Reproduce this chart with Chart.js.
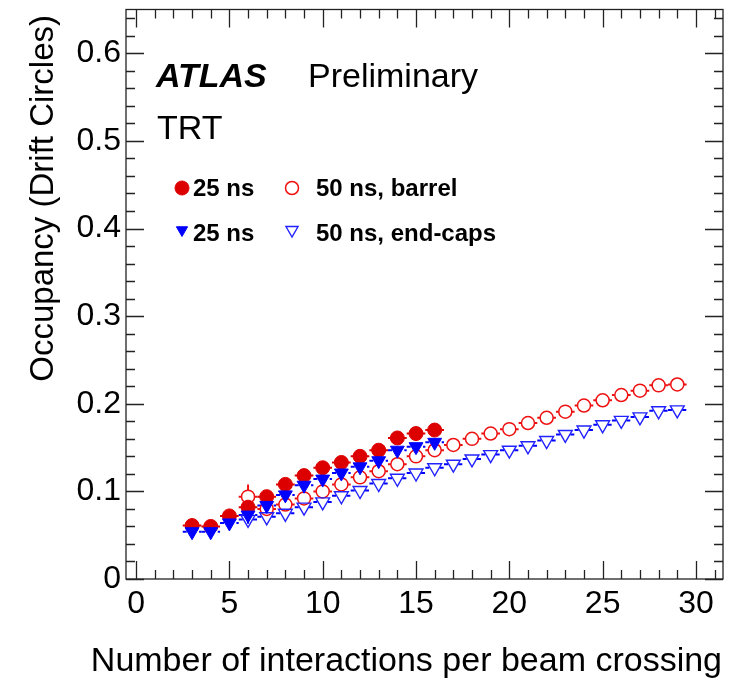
<!DOCTYPE html>
<html>
<head>
<meta charset="utf-8">
<script src="https://cdn.jsdelivr.net/npm/chart.js@4.4.1/dist/chart.umd.min.js"></script>
<style>
html,body{margin:0;padding:0;background:#fff;}
#wrap{position:relative;width:735px;height:679px;}
</style>
</head>
<body>
<div id="wrap"><canvas id="c" width="735" height="679"></canvas></div>
<script>
// ---------------- data ----------------
const mu25 = [3,4,5,6,7,8,9,10,11,12,13,14,15,16];
const barrel25 = [0.061,0.060,0.072,0.082,0.094,0.108,0.118,0.127,0.133,0.140,0.147,0.161,0.166,0.170];
const endcap25 = [0.054,0.054,0.064,0.073,0.084,0.096,0.107,0.114,0.121,0.128,0.135,0.147,0.151,0.156];
const endcap25YErr = [0,0,0,0.010,0,0,0,0,0,0,0,0,0,0];
const barrel25YErr = [0,0,0,0,0,0,0,0,0,0,0,0,0,0];

const mu50 = [6,7,8,9,10,11,12,13,14,15,16,17,18,19,20,21,22,23,24,25,26,27,28,29];
const barrel50 = [0.094,0.080,0.085,0.092,0.100,0.108,0.116,0.123,0.131,0.140,0.147,0.153,0.160,0.166,0.171,0.178,0.184,0.191,0.198,0.204,0.210,0.215,0.221,0.222];
const endcap50 = [0.068,0.071,0.075,0.082,0.088,0.095,0.101,0.109,0.115,0.121,0.127,0.131,0.137,0.142,0.147,0.152,0.158,0.165,0.170,0.176,0.181,0.185,0.192,0.193];
const barrel50YErr = [0.014,0,0,0,0,0,0,0,0,0,0,0,0,0,0,0,0,0,0,0,0,0,0,0];
const endcap50YErr = [0,0,0,0,0,0,0,0,0,0,0,0,0,0,0,0,0,0,0,0,0,0,0,0];
const muBinHalfWidth = 0.5;

const seriesNames = ['25 ns', '25 ns', '50 ns, barrel', '50 ns, end-caps'];
const xTitle = 'Number of interactions per beam crossing';
const yTitle = 'Occupancy (Drift Circles)';

const xMajorTicks = [0,5,10,15,20,25,30];
const xTickLabels = ['0','5','10','15','20','25','30'];
const xMinorTicks = [0,1,2,3,4,5,6,7,8,9,10,11,12,13,14,15,16,17,18,19,20,21,22,23,24,25,26,27,28,29,30,31];
const yMajorTicks = [0,0.1,0.2,0.3,0.4,0.5,0.6];
const yTickLabels = ['0','0.1','0.2','0.3','0.4','0.5','0.6'];
const yMinorTicks = [0,0.02,0.04,0.06,0.08,0.1,0.12,0.14,0.16,0.18,0.2,0.22,0.24,0.26,0.28,0.3,0.32,0.34,0.36,0.38,0.4,0.42,0.44,0.46,0.48,0.5,0.52,0.54,0.56,0.58,0.6,0.62,0.64];

// ---------------- helpers ----------------
const FONT = "'Liberation Sans', Arial, Helvetica, sans-serif";
const RED_F = '#dd0000', RED_O = '#ee1111', BLUE = '#0000ff';
function pts(xs, ys, yerr){ return xs.map((v,i)=>({x:v, y:ys[i], xe:muBinHalfWidth, ye:yerr[i]})); }
function isIn(arr, v){ return arr.some(a=>Math.abs(a-v)<1e-9); }

const errorBars = {
  id:'errorBars',
  beforeDatasetsDraw(chart){
    const {ctx, scales:{x, y}} = chart;
    chart.data.datasets.forEach((ds, i)=>{
      ctx.save();
      ctx.strokeStyle = ds.errColor; ctx.lineWidth = 2;
      ctx.setLineDash(ds.errDash || []);
      const g = ds.errGap;
      ds.data.forEach(p=>{
        const cx = x.getPixelForValue(p.x), cy = y.getPixelForValue(p.y);
        const x0 = x.getPixelForValue(p.x - p.xe), x1 = x.getPixelForValue(p.x + p.xe);
        ctx.beginPath();
        ctx.moveTo(x0, cy); ctx.lineTo(cx - g, cy);
        ctx.moveTo(cx + g, cy); ctx.lineTo(x1, cy);
        if (p.ye){
          const y0 = y.getPixelForValue(p.y - p.ye), y1 = y.getPixelForValue(p.y + p.ye);
          if (y0 > cy + g){ ctx.moveTo(cx, y0); ctx.lineTo(cx, cy + g); }
          if (y1 < cy - g){ ctx.moveTo(cx, y1); ctx.lineTo(cx, cy - g); }
        }
        ctx.stroke();
      });
      ctx.restore();
    });
  }
};

const frameAndText = {
  id:'frameAndText',
  afterDraw(chart){
    const {ctx, chartArea:a, scales:{x, y}} = chart;
    ctx.save();
    ctx.strokeStyle = '#222'; ctx.lineWidth = 1.3;
    ctx.strokeRect(a.left, a.top, a.right - a.left, a.bottom - a.top);
    ctx.beginPath();
    xMinorTicks.forEach(v=>{
      const px = Math.round(x.getPixelForValue(v)) + 0.5;
      const L = isIn(xMajorTicks, v) ? 18 : 9;
      ctx.moveTo(px, a.bottom); ctx.lineTo(px, a.bottom - L);
      ctx.moveTo(px, a.top); ctx.lineTo(px, a.top + L);
    });
    yMinorTicks.forEach(v=>{
      const py = Math.round(y.getPixelForValue(v)) + 0.5;
      const L = isIn(yMajorTicks, v) ? 18 : 9;
      ctx.moveTo(a.left, py); ctx.lineTo(a.left + L, py);
      ctx.moveTo(a.right, py); ctx.lineTo(a.right - L, py);
    });
    ctx.stroke();

    // axis titles (ROOT style: aligned to the far end of each axis)
    ctx.fillStyle = '#000';
    ctx.textBaseline = 'alphabetic';
    ctx.textAlign = 'right';
    ctx.font = '34px ' + FONT;
    ctx.fillText(xTitle, 722, 671);
    ctx.save();
    ctx.translate(53, 15);
    ctx.rotate(-Math.PI/2);
    ctx.font = '33px ' + FONT;
    ctx.textAlign = 'right';
    ctx.fillText(yTitle, 0, 0);
    ctx.restore();

    // annotations
    ctx.textAlign = 'left';
    ctx.font = 'italic bold 34px ' + FONT;
    ctx.fillText('ATLAS', 156, 87);
    ctx.font = '34px ' + FONT;
    ctx.fillText('Preliminary', 308, 87);
    ctx.fillText('TRT', 157, 139);

    // legend
    const ds = chart.data.datasets;
    const items = [
      {d:ds[1], mx:182, my:188, tx:193, ty:196, r:7},
      {d:ds[3], mx:292, my:188, tx:316, ty:196, r:6.5},
      {d:ds[0], mx:182, my:230, tx:193, ty:241, r:6.5},
      {d:ds[2], mx:292, my:230, tx:316, ty:241, r:7}
    ];
    items.forEach(it=>{
      ctx.save();
      ctx.fillStyle = it.d.backgroundColor;
      ctx.strokeStyle = it.d.borderColor;
      ctx.lineWidth = it.d.borderWidth;
      Chart.helpers.drawPoint(ctx, {pointStyle:it.d.pointStyle, radius:it.r, rotation:it.d.rotation||0, borderWidth:it.d.borderWidth}, it.mx, it.my);
      ctx.restore();
      ctx.fillStyle = '#000';
      ctx.font = 'bold 24px ' + FONT;
      ctx.fillText(it.d.label, it.tx, it.ty);
    });
    ctx.restore();
  }
};

new Chart(document.getElementById('c'), {
  type:'scatter',
  data:{
    datasets:[
      {label:seriesNames[1], data:pts(mu25, endcap25, endcap25YErr), pointStyle:'triangle', rotation:180,
       pointRadius:8, backgroundColor:BLUE, borderColor:BLUE, borderWidth:1, order:0,
       errColor:BLUE, errDash:[4,3], errGap:0},
      {label:seriesNames[0], data:pts(mu25, barrel25, barrel25YErr), pointStyle:'circle',
       pointRadius:7, backgroundColor:RED_F, borderColor:RED_F, borderWidth:1, order:1,
       errColor:RED_F, errDash:[], errGap:0},
      {label:seriesNames[3], data:pts(mu50, endcap50, endcap50YErr), pointStyle:'triangle', rotation:180,
       pointRadius:8, backgroundColor:'rgba(255,255,255,0)', borderColor:'#2222ff', borderWidth:1.4, order:2,
       errColor:BLUE, errDash:[4,3], errGap:5},
      {label:seriesNames[2], data:pts(mu50, barrel50, barrel50YErr), pointStyle:'circle',
       pointRadius:6.5, backgroundColor:'rgba(255,255,255,0)', borderColor:RED_O, borderWidth:1.5, order:3,
       errColor:RED_O, errDash:[], errGap:6.5}
    ]
  },
  options:{
    responsive:false, animation:false, devicePixelRatio:1,
    layout:{padding:{left:0, right:12, top:7, bottom:0}},
    plugins:{legend:{display:false}, tooltip:{enabled:false}},
    elements:{point:{hoverRadius:8}},
    scales:{
      x:{
        type:'linear', min:-0.54, max:31.45,
        grid:{display:false, drawTicks:false}, border:{display:false},
        afterBuildTicks:(s)=>{ s.ticks = xMajorTicks.map(v=>({value:v})); },
        afterFit:(s)=>{ s.height = 100; s.paddingLeft = 0; s.paddingRight = 0; },
        ticks:{autoSkip:false, maxRotation:0, minRotation:0, padding:6, color:'#000',
          font:{family:FONT, size:32},
          callback:(v)=>{ const i = xMajorTicks.findIndex(t=>Math.abs(t-v)<1e-9); return i>=0 ? xTickLabels[i] : ''; }},
        title:{display:false}
      },
      y:{
        type:'linear', min:0, max:0.65,
        grid:{display:false, drawTicks:false}, border:{display:false},
        afterBuildTicks:(s)=>{ s.ticks = yMajorTicks.map(v=>({value:v})); },
        afterFit:(s)=>{ s.width = 126; s.paddingTop = 0; s.paddingBottom = 0; },
        ticks:{autoSkip:false, padding:5, color:'#000', font:{family:FONT, size:32},
          callback:(v)=>{ const i = yMajorTicks.findIndex(t=>Math.abs(t-v)<1e-9); return i>=0 ? yTickLabels[i] : ''; }},
        title:{display:false}
      }
    }
  },
  plugins:[errorBars, frameAndText]
});
</script>
</body>
</html>
